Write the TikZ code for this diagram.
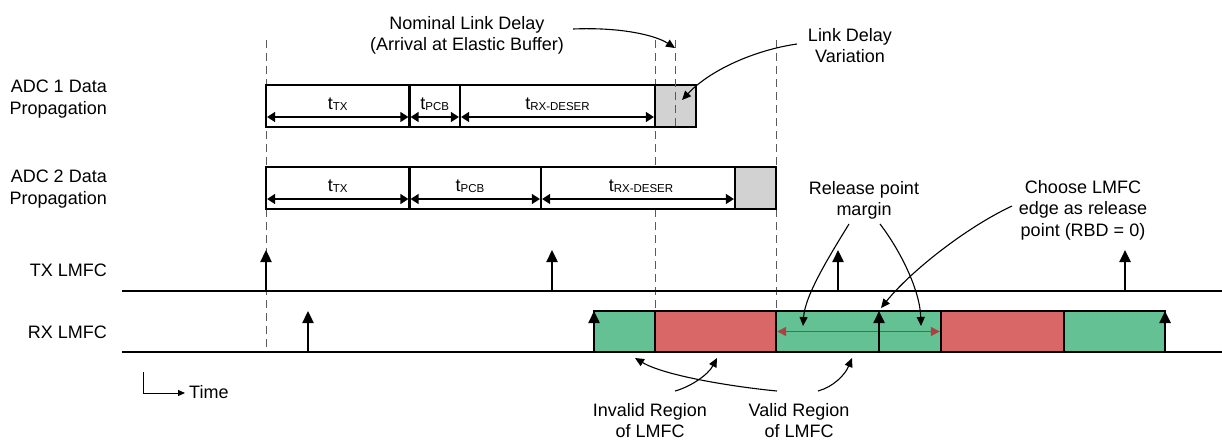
\documentclass[tikz,border=0pt]{standalone}
\usepackage{fontspec}
\setmainfont{Liberation Sans}
\usetikzlibrary{arrows.meta}
\definecolor{regG}{RGB}{99,193,148}
\definecolor{regR}{RGB}{217,103,103}
\definecolor{lgray}{RGB}{210,210,210}
\definecolor{mrgred}{RGB}{176,64,64}
\definecolor{dashgray}{RGB}{90,90,90}
\newcommand{\tsub}[1]{t\raisebox{-1pt}{\fontsize{11.5}{12}\selectfont #1}}
\begin{document}
\begin{tikzpicture}[x=1pt,y=-1pt,
  lbl/.style={font=\fontsize{18}{21.5}\selectfont, inner sep=0pt, align=center},
  sublbl/.style={font=\fontsize{18}{21.5}\selectfont, inner sep=0pt},
  segbox/.style={draw=black, line width=2.3pt, fill=white, minimum height=42pt, inner sep=0pt, outer sep=0pt},
  regbox/.style={draw=black, line width=2.3pt, minimum height=41pt, inner sep=0pt, outer sep=0pt},
  dim/.style={line width=1.3pt, shorten <=1.1pt, shorten >=1.1pt, {Triangle[length=8pt,width=10pt]}-{Triangle[length=8pt,width=10pt]}},
  mdim/.style={draw=mrgred, line width=1.3pt, shorten <=1.2pt, shorten >=1.2pt, {Triangle[length=9pt,width=9pt]}-{Triangle[length=9pt,width=9pt]}, mrgred},
  vguide/.style={draw=dashgray, line width=0.9pt, dash pattern=on 8pt off 5pt},
  clk/.style={line width=2.4pt, -{Triangle[length=12pt,width=11pt]}},
  callout/.style={line width=1.1pt, -{Triangle[length=9pt,width=8pt]}},
  base/.style={line width=2.2pt},
]
\useasboundingbox (0,0) rectangle (1222,440);

% ---------- left labels ----------
\node[lbl, align=right, anchor=north east] (adc1) at (107,80) {ADC 1 Data\\Propagation};
\node[lbl, align=right, anchor=north east] (adc2) at (107,170) {ADC 2 Data\\Propagation};
\node[lbl, align=right, anchor=north east] (txl) at (107,264) {TX LMFC};
\node[lbl, align=right, anchor=north east] (rxl) at (107,326) {RX LMFC};

% ---------- guides hidden by boxes ----------
\draw[vguide] (266,40) -- (266,352);
\draw[vguide] (655,40) -- (655,311);
\draw[vguide] (776,40) -- (776,311);

% ---------- baselines ----------
\coordinate (txL) at (122,291); \coordinate (txR) at (1222,291);
\coordinate (rxL) at (122,352); \coordinate (rxR) at (1222,352);
\draw[base] (txL) -- (txR);
\draw[base] (rxL) -- (rxR);

% ---------- ADC 1 ----------
\node[segbox, minimum width=143.5pt] (a1tx)  at (337.75,106) {};
\node[segbox, minimum width=50.5pt]  (a1pcb) at (434.75,106) {};
\node[segbox, minimum width=195pt]   (a1rx)  at (557.5,106) {};
\node[segbox, minimum width=41pt, fill=lgray] (a1var) at (675.5,106) {};
\node[sublbl, anchor=base] (t1tx)  at (337.75,109) {\tsub{TX}};
\node[sublbl, anchor=base] (t1pcb) at (434.75,109) {\tsub{PCB}};
\node[sublbl, anchor=base] (t1rx)  at (557.5,109) {\tsub{RX-DESER}};
\draw[dim] ([yshift=10pt]a1tx.south west)  -- ([yshift=10pt]a1tx.south east);
\draw[dim] ([yshift=10pt]a1pcb.south west) -- ([yshift=10pt]a1pcb.south east);
\draw[dim] ([yshift=10pt]a1rx.south west)  -- ([yshift=10pt]a1rx.south east);

% ---------- ADC 2 ----------
\node[segbox, minimum width=143.5pt] (a2tx)  at (337.75,188) {};
\node[segbox, minimum width=131.5pt] (a2pcb) at (475.25,188) {};
\node[segbox, minimum width=194pt]   (a2rx)  at (638,188) {};
\node[segbox, minimum width=41pt, fill=lgray] (a2var) at (755.5,188) {};
\node[sublbl, anchor=base] (t2tx)  at (337.75,191) {\tsub{TX}};
\node[sublbl, anchor=base] (t2pcb) at (470,191) {\tsub{PCB}};
\node[sublbl, anchor=base] (t2rx)  at (641,191) {\tsub{RX-DESER}};
\draw[dim] ([yshift=10pt]a2tx.south west)  -- ([yshift=10pt]a2tx.south east);
\draw[dim] ([yshift=10pt]a2pcb.south west) -- ([yshift=10pt]a2pcb.south east);
\draw[dim] ([yshift=10pt]a2rx.south west)  -- ([yshift=10pt]a2rx.south east);

% guide visible inside the grey box
\draw[vguide] (675,40) -- (675,127);

% ---------- RX regions ----------
\node[regbox, fill=regG, minimum width=61pt]  (r1) at (624.5,331.5) {};
\node[regbox, fill=regR, minimum width=121pt] (r2) at (715.5,331.5) {};
\node[regbox, fill=regG, minimum width=165pt] (r3) at (858.5,331.5) {};
\node[regbox, fill=regR, minimum width=123pt] (r4) at (1002.5,331.5) {};
\node[regbox, fill=regG, minimum width=101pt] (r5) at (1114.5,331.5) {};
\draw[mdim] (r3.west) -- (r3.east);

% ---------- LMFC edges ----------
\foreach \x/\n in {266/1,552/2,838/3,1125/4}{
  \coordinate (tx\n) at (\x,291);
  \draw[clk] (tx\n) -- ++(0,-41);
}
\foreach \x/\n in {308/1,594/2,879/3,1165/4}{
  \coordinate (rx\n) at (\x,352);
  \draw[clk] (rx\n) -- ++(0,-41);
}

% ---------- time axis ----------
\coordinate (tA) at (143,372);
\coordinate (tB) at (185,393);
\draw[line width=1pt, -{Triangle[length=7pt,width=6pt]}] (tA) |- (tB);
\node[sublbl, anchor=base west] (time) at (189,398) {Time};

% ---------- annotation labels ----------
\node[lbl, anchor=north] (nom) at (467,16) {Nominal Link Delay\\(Arrival at Elastic Buffer)};
\node[lbl, anchor=north] (ldv) at (850,28) {Link Delay\\Variation};
\node[lbl, anchor=north] (rpm) at (864,181) {Release point\\margin};
\node[lbl, anchor=north] (cho) at (1083,180) {Choose LMFC\\edge as release\\point (RBD = 0)};
\node[lbl, anchor=north] (inv) at (650,403) {Invalid Region\\of LMFC};
\node[lbl, anchor=north] (val) at (799,403) {Valid Region\\of LMFC};

% ---------- callout arrows ----------
\coordinate (n0) at (573,29);   \coordinate (n1) at (675,48);
\coordinate (l0) at (797,44);   \coordinate (l1) at (682,100);
\coordinate (p0) at (849,224);  \coordinate (p1) at (803,326);
\coordinate (q0) at (880,224);  \coordinate (q1) at (921,326);
\coordinate (c0) at (1012,206); \coordinate (c1) at (881,308);
\coordinate (v0) at (777,391);  \coordinate (v1) at (635,358);
\coordinate (i0) at (675,391);  \coordinate (i1) at (717,358);
\coordinate (w0) at (818,391);  \coordinate (w1) at (852,358);
\draw[callout] (n0) .. controls (620,27) and (655,35) .. (n1);
\draw[callout] (l0) .. controls (755,50) and (710,70) .. (l1);
\draw[callout] (p0) .. controls (830,255) and (805,295) .. (p1);
\draw[callout] (q0) .. controls (900,250) and (920,290) .. (q1);
\draw[callout] (c0) .. controls (965,228) and (910,272) .. (c1);
\draw[callout] (v0) .. controls (735,387) and (665,376) .. (v1);
\draw[callout] (i0) .. controls (690,387) and (708,375) .. (i1);
\draw[callout] (w0) .. controls (833,387) and (845,375) .. (w1);
\end{tikzpicture}
\end{document}
